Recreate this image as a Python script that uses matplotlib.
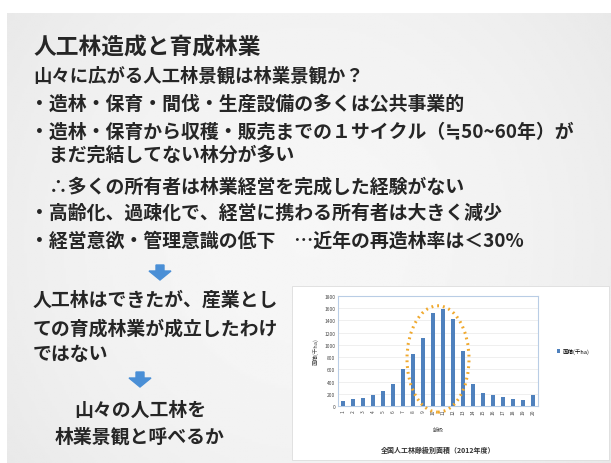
import numpy as np
import matplotlib.pyplot as plt
from matplotlib.patches import Rectangle, Ellipse, FancyArrow

plt.rcParams['font.family'] = ['Noto Sans CJK JP', 'DejaVu Sans']

# slide text
title = "人工林造成と育成林業"
subtitle = "山々に広がる人工林景観は林業景観か？"
bullets = [
    "・造林・保育・間伐・生産設備の多くは公共事業的",
    "・造林・保育から収穫・販売までの１サイクル（≒50~60年）が",
    "　まだ完結してない林分が多い",
    "　∴多くの所有者は林業経営を完成した経験がない",
    "・高齢化、過疎化で、経営に携わる所有者は大きく減少",
    "・経営意欲・管理意識の低下　…近年の再造林率は＜30%",
]
conclusion = ["人工林はできたが、産業とし", "ての育成林業が成立したわけ", "ではない"]
question = ["山々の人工林を", "林業景観と呼べるか"]

# embedded chart data (area by age class, 1000 ha)
age_classes = [str(i) for i in range(1, 21)]
area = [80, 120, 125, 175, 245, 355, 600, 855, 1105, 1515,
        1580, 1430, 900, 355, 205, 180, 145, 120, 100, 175]
yticks = list(range(0, 2000, 200))
chart_title = "全国人工林齢級別面積（2012年度）"
legend_label = "面積(千ha)"

W, H = 611, 464
fig = plt.figure(figsize=(W / 100, H / 100), dpi=100)
fig.patch.set_facecolor('white')

def fx(px):
    return px / W

def fy(py):
    return 1 - py / H

# slide background with soft vignette
bg = fig.add_axes([fx(7), fy(464), fx(604), (464 - 14) / H])
yy, xx = np.mgrid[-1:1:200j, -1:1:260j]
shade = 0.965 - 0.035 * (xx ** 2 + 0.5 * yy ** 2)
bg.imshow(shade, cmap='gray', vmin=0, vmax=1, aspect='auto', extent=[0, 1, 0, 1])
bg.axis('off')

txt = '#262626'
fs = 13.6
fig.text(fx(33), fy(48), title, fontsize=16.4, fontweight='bold', color=txt, va='center')
fig.text(fx(33), fy(76), subtitle, fontsize=13.2, fontweight='bold', color=txt, va='center')
bullet_y = [104, 132, 155, 187, 213, 241]
for line, y in zip(bullets, bullet_y):
    fig.text(fx(30), fy(y), line, fontsize=fs, fontweight='bold', color=txt, va='center')

arrow_col = '#4a8fd6'
def down_arrow(cx, top):
    fig.patches.append(FancyArrow(fx(cx), fy(top), 0, -15 / H, width=fx(8),
                                  head_width=fx(22), head_length=9 / H,
                                  length_includes_head=True, color=arrow_col,
                                  transform=fig.transFigure, figure=fig))

down_arrow(160, 266)
for line, y in zip(conclusion, [300, 329, 355]):
    fig.text(fx(33), fy(y), line, fontsize=fs, fontweight='bold', color=txt, va='center')
down_arrow(140, 373)
for line, y in zip(question, [410, 437]):
    fig.text(fx(140), fy(y), line, fontsize=fs, fontweight='bold', color=txt,
             va='center', ha='center')

# white chart box
fig.patches.append(Rectangle((fx(292), fy(461)), fx(317), (461 - 287) / H,
                             facecolor='white', edgecolor='#dddddd', lw=0.6,
                             transform=fig.transFigure, figure=fig))

ax = fig.add_axes([fx(338), fy(407), fx(200), 110 / H])
ax.set_zorder(3)
x = np.arange(len(area))
ax.bar(x, area, width=0.35, color='#4f81bd', zorder=3, label=legend_label)
ax.set_xlim(-0.5, len(area) - 0.5)
ax.set_ylim(0, 1800)
ax.set_yticks(yticks)
ax.set_yticklabels([str(v) for v in yticks], fontsize=3.5, color='#444444')
ax.set_xticks(x)
ax.set_xticklabels(age_classes, fontsize=3.5, rotation=90, color='#444444')
ax.tick_params(length=0, pad=2)
ax.grid(axis='y', color='#e4e4e4', lw=0.4, zorder=0)
for s in ax.spines.values():
    s.set_color('#b9cde5')
    s.set_linewidth(0.8)
ax.set_xlabel("齢級", fontsize=4, color='#444444', labelpad=9)
ax.set_ylabel("面積(千ha)", fontsize=4, color='#444444', labelpad=4)
ax.set_title(chart_title, fontsize=5, fontweight='bold', color='#333333', y=-0.49)

ell = Ellipse((9.5, 770), width=6.2, height=1740, fill=False, edgecolor='#f0a92e',
              lw=2.2, ls=(0, (0.6, 1.3)), clip_on=False, zorder=5)
ax.add_patch(ell)

ax.legend(loc='center left', bbox_to_anchor=(1.07, 0.5), frameon=False,
          fontsize=4, handlelength=0.6, handleheight=0.6, handletextpad=0.5)

fig.savefig('out.png', dpi=100)
